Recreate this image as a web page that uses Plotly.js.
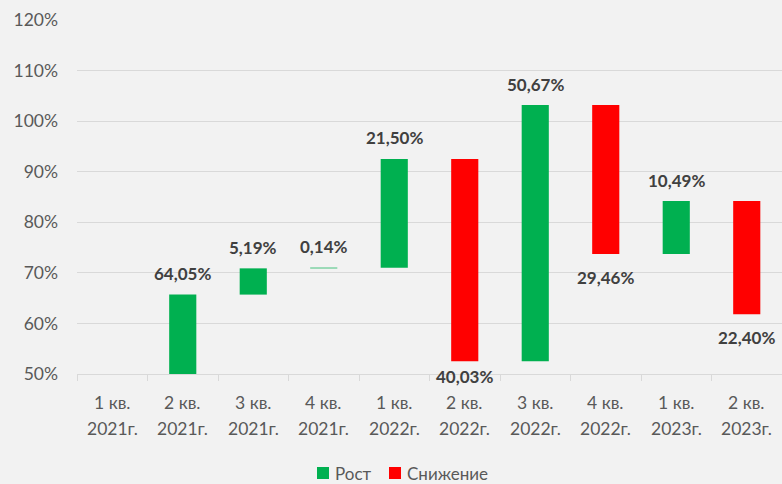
<!DOCTYPE html>
<html>
<head>
<meta charset="utf-8">
<script src="https://cdn.plot.ly/plotly-3.0.1.min.js"></script>
<style>html,body{margin:0;padding:0;background:#f2f2f2;}#chart{width:782px;height:484px;}</style>
</head>
<body>
<div id="chart"></div>
<script>
// Quarter labels (two lines each)
var quarterLabels = ["1 кв.", "2 кв.", "3 кв.", "4 кв.", "1 кв.", "2 кв.", "3 кв.", "4 кв.", "1 кв.", "2 кв."];
var yearLabels = ["2021г.", "2021г.", "2021г.", "2021г.", "2022г.", "2022г.", "2022г.", "2022г.", "2023г.", "2023г."];
// Level at 1 кв. 2021г. (below the visible axis range)
var startLevel = 1.65;
// Change per quarter, percentage points (null = first quarter, no bar)
var changes = [null, 64.05, 5.19, 0.14, 21.50, -40.03, 50.67, -29.46, 10.49, -22.40];
var changeLabels = ["", "64,05%", "5,19%", "0,14%", "21,50%", "40,03%", "50,67%", "29,46%", "10,49%", "22,40%"];
var yTickVals = [50, 60, 70, 80, 90, 100, 110, 120];
var yTickText = ["50%", "60%", "70%", "80%", "90%", "100%", "110%", "120%"];
var seriesNames = ["Рост", "Снижение"];

var FONT = "Lato, 'Open Sans', sans-serif";
var GREEN = "#00b050", RED = "#ff0000";
var W = 782, H = 484, marginL = 77, marginR = 0, marginT = 20, marginB = 110, yMin = 50, yMax = 120;
var plotW = W - marginL - marginR, plotH = H - marginT - marginB;
var pxPer = plotH / (yMax - yMin);

var up = {x: [], base: [], y: []}, down = {x: [], base: [], y: []};
var annotations = [];
var level = startLevel;
for (var i = 0; i < changes.length; i++) {
  var c = changes[i];
  if (c === null) continue;
  var lo = Math.min(level, level + c), hi = Math.max(level, level + c);
  var t = c >= 0 ? up : down;
  t.x.push(i); t.base.push(lo); t.y.push(hi - lo);
  if (c >= 0) {
    annotations.push({x: i, y: hi, xref: "x", yref: "y", text: "<b>" + changeLabels[i] + "</b>",
      showarrow: false, yanchor: "middle", yshift: 21, font: {family: FONT, size: 17, color: "#404040"}});
  } else {
    var shift = Math.min(23, (lo - yMin) * pxPer + 2.5);
    annotations.push({x: i, y: lo, xref: "x", yref: "y", text: "<b>" + changeLabels[i] + "</b>",
      showarrow: false, yanchor: "middle", yshift: -shift, font: {family: FONT, size: 17, color: "#404040"}});
  }
  level += c;
}
for (var k = 0; k < quarterLabels.length; k++) {
  annotations.push({x: k, y: 0, xref: "x", yref: "paper", text: quarterLabels[k], showarrow: false,
    yanchor: "middle", yshift: -28.5, font: {family: FONT, size: 17.5, color: "#595959"}});
  annotations.push({x: k, y: 0, xref: "x", yref: "paper", text: yearLabels[k], showarrow: false,
    yanchor: "middle", yshift: -54, font: {family: FONT, size: 17.5, color: "#595959"}});
}

// Manual legend (pixel layout converted to paper coordinates)
function px2x(p) { return (p - marginL) / plotW; }
function px2y(p) { return (H - marginB - p) / plotH; }
var shapes = [];
var legendItems = [{sq: 317, txt: 333, color: GREEN, name: seriesNames[0]},
                   {sq: 389, txt: 405, color: RED, name: seriesNames[1]}];
legendItems.forEach(function (it) {
  shapes.push({type: "rect", xref: "paper", yref: "paper", x0: px2x(it.sq), x1: px2x(it.sq + 12),
    y0: px2y(479), y1: px2y(467), fillcolor: it.color, line: {width: 0}});
  annotations.push({x: px2x(it.txt), y: px2y(473), xref: "paper", yref: "paper", text: it.name,
    showarrow: false, xanchor: "left", yanchor: "middle", font: {family: FONT, size: 17, color: "#595959"}});
});

var tickPos = [];
for (var j = 0; j <= quarterLabels.length; j++) tickPos.push(j - 0.5);

var traces = [
  {type: "bar", name: seriesNames[0], x: up.x, y: up.y, base: up.base, width: 0.385,
   marker: {color: GREEN, line: {width: 0}}, hoverinfo: "skip"},
  {type: "bar", name: seriesNames[1], x: down.x, y: down.y, base: down.base, width: 0.385,
   marker: {color: RED, line: {width: 0}}, hoverinfo: "skip"}
];

var layout = {
  width: W, height: H,
  margin: {l: marginL, r: marginR, t: marginT, b: marginB},
  paper_bgcolor: "#f2f2f2", plot_bgcolor: "#f2f2f2",
  barmode: "overlay",
  showlegend: false,
  xaxis: {range: [-0.5, quarterLabels.length - 0.5], tickmode: "array", tickvals: tickPos,
    showticklabels: false, ticks: "outside", ticklen: 6, tickcolor: "#d9d9d9", tickwidth: 1,
    showgrid: false, zeroline: false, showline: true, linecolor: "#d9d9d9", linewidth: 1, fixedrange: true},
  yaxis: {range: [yMin, yMax], tickmode: "array", tickvals: yTickVals, ticktext: yTickText,
    showgrid: true, gridcolor: "#d9d9d9", gridwidth: 1, zeroline: false, showline: false,
    ticks: "", ticklabelstandoff: 18,
    tickfont: {family: FONT, size: 17.5, color: "#595959"}, fixedrange: true},
  shapes: shapes,
  annotations: annotations
};

Plotly.newPlot("chart", traces, layout, {staticPlot: true, displayModeBar: false});
</script>
</body>
</html>
